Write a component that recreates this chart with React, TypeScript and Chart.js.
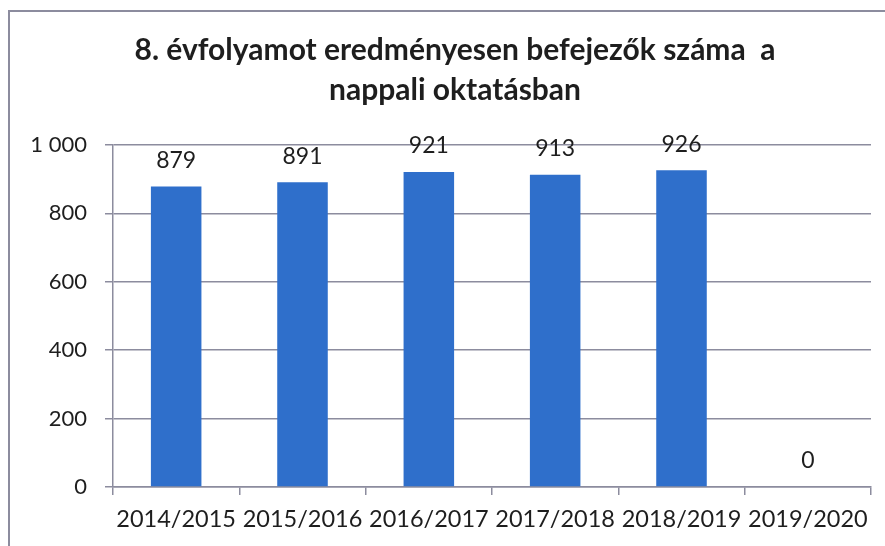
import React, { useEffect, useRef } from "react";
import { Chart, registerables } from "chart.js";

Chart.register(...registerables);

const categories = ["2014/2015", "2015/2016", "2016/2017", "2017/2018", "2018/2019", "2019/2020"];
const values = [879, 891, 921, 913, 926, 0];
const titleLines = ["8. évfolyamot eredményesen befejezők száma  a", "nappali oktatásban"];
const yTicks = [0, 200, 400, 600, 800, 1000];

const FONT = "Lato, 'Open Sans', 'Liberation Sans', sans-serif";
const TEXT = "#1e1e1e";
const GRID = "#8c8c9e";
const BAR = "#2f6fcb";

const fmt = (v: number) => {
  const s = String(Math.round(v));
  return s.replace(/\B(?=(\d{3})+(?!\d))/g, " ");
};

const framePlugin = {
  id: "frame",
  beforeDraw(chart: any) {
    const ctx = chart.ctx;
    ctx.save();
    ctx.fillStyle = "#ffffff";
    ctx.fillRect(0, 0, chart.width, chart.height);
    ctx.strokeStyle = GRID;
    ctx.lineWidth = 2;
    ctx.beginPath();
    ctx.moveTo(9, chart.height);
    ctx.lineTo(9, 11);
    ctx.lineTo(chart.width, 11);
    ctx.stroke();
    ctx.restore();
  },
};

const titlePlugin = {
  id: "customTitle",
  afterDraw(chart: any) {
    const ctx = chart.ctx;
    ctx.save();
    ctx.font = `bold 30px ${FONT}`;
    ctx.fillStyle = TEXT;
    ctx.textAlign = "center";
    ctx.textBaseline = "middle";
    ctx.fillText(titleLines[0], 455, 50);
    ctx.fillText(titleLines[1], 455, 90);
    ctx.restore();
  },
};

const labelPlugin = {
  id: "valueLabels",
  afterDatasetsDraw(chart: any) {
    const ctx = chart.ctx;
    const meta = chart.getDatasetMeta(0);
    ctx.save();
    ctx.font = `23px ${FONT}`;
    ctx.fillStyle = TEXT;
    ctx.textAlign = "center";
    ctx.textBaseline = "middle";
    meta.data.forEach((el: any, i: number) => {
      const v = chart.data.datasets[0].data[i];
      ctx.fillText(fmt(v), el.x, el.y - 26);
    });
    ctx.restore();
  },
};

export default function App() {
  const ref = useRef<HTMLCanvasElement>(null);
  useEffect(() => {
    document.body.style.margin = "0";
    const chart = new Chart(ref.current!, {
      type: "bar",
      data: {
        labels: categories,
        datasets: [
          {
            data: values,
            backgroundColor: BAR,
            borderWidth: 0,
            barPercentage: 0.4,
            categoryPercentage: 1,
          },
        ],
      },
      options: {
        responsive: false,
        animation: false,
        layout: { padding: { left: 0, right: 14, top: 145, bottom: 0 } },
        plugins: {
          legend: { display: false },
          tooltip: { enabled: false },
          title: { display: false },
        },
        scales: {
          x: {
            offset: true,
            grid: {
              display: true,
              offset: true,
              drawOnChartArea: false,
              drawTicks: true,
              tickLength: 8,
              color: GRID,
              lineWidth: 1.5,
            },
            border: { display: true, color: GRID, width: 1.5 },
            ticks: {
              color: TEXT,
              font: { family: FONT, size: 23.5 },
              padding: 10,
              maxRotation: 0,
              autoSkip: false,
            },
            afterFit(scale: any) {
              scale.height = 59;
            },
          },
          y: {
            min: 0,
            max: 1000,
            afterBuildTicks(scale: any) {
              scale.ticks = yTicks.map((v) => ({ value: v }));
            },
            grid: {
              color: GRID,
              lineWidth: 1.5,
              drawTicks: true,
              tickLength: 8,
            },
            border: { display: true, color: GRID, width: 1.5 },
            ticks: {
              color: TEXT,
              font: { family: FONT, size: 22 },
              padding: 18,
              callback: (v: any) => fmt(Number(v)),
            },
            afterFit(scale: any) {
              scale.width = 113;
            },
          },
        },
      },
      plugins: [framePlugin, labelPlugin, titlePlugin],
    });
    return () => chart.destroy();
  }, []);
  return (
    <div style={{ width: 885, height: 546, background: "#fff" }}>
      <canvas ref={ref} width={885} height={546} style={{ display: "block" }} />
    </div>
  );
}
